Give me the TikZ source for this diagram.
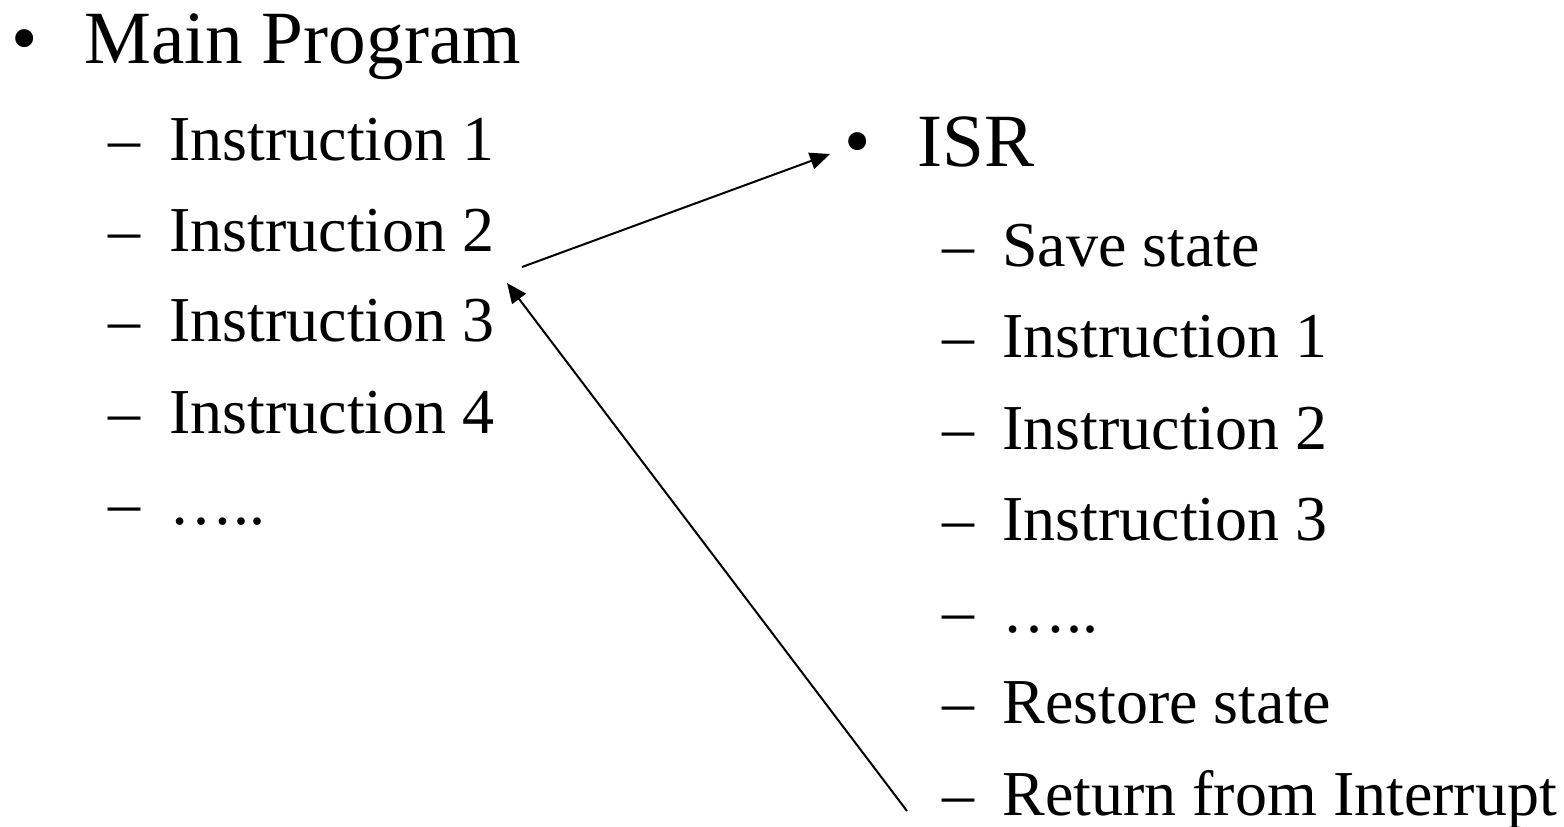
\documentclass[tikz,border=0pt]{standalone}
\usepackage{fontspec}
\setmainfont{Liberation Serif}
\usetikzlibrary{arrows.meta}

\tikzset{
	item/.style={inner sep=0pt, anchor=base west, font=\fontsize{37.6}{44}\selectfont},
	subitem/.style={inner sep=0pt, anchor=base west, font=\fontsize{32}{40}\selectfont},
	jump/.style={line width=1pt, -{Triangle[length=10pt,width=8.5pt]}}
}

\begin{document}
\begin{tikzpicture}[x=0.5pt,y=0.5pt]
	\useasboundingbox (0,0) rectangle (1564,-826);
	
	%MAIN PROGRAM
	\node[item] (mb) at (11,-63) {•};
	\node[item] (main) at (84,-63) {Main Program};
	\node[subitem] (md1) at (108,-160) {–};
	\node[subitem] (m1) at (169,-160) {Instruction 1};
	\node[subitem] (md2) at (108,-251) {–};
	\node[subitem] (m2) at (169,-251) {Instruction 2};
	\node[subitem] (md3) at (108,-341) {–};
	\node[subitem] (m3) at (169,-341) {Instruction 3};
	\node[subitem] (md4) at (108,-433) {–};
	\node[subitem] (m4) at (169,-433) {Instruction 4};
	\node[subitem] (md5) at (108,-524) {–};
	\node[subitem] (m5) at (169,-524) {…..};
	
	%ISR
	\node[item] (ib) at (844,-166) {•};
	\node[item] (isr) at (917,-166) {ISR};
	\node[subitem] (id1) at (942,-266) {–};
	\node[subitem] (i1) at (1002,-266) {Save state};
	\node[subitem] (id2) at (942,-357) {–};
	\node[subitem] (i2) at (1002,-357) {Instruction 1};
	\node[subitem] (id3) at (942,-449) {–};
	\node[subitem] (i3) at (1002,-449) {Instruction 2};
	\node[subitem] (id4) at (942,-540) {–};
	\node[subitem] (i4) at (1002,-540) {Instruction 3};
	\node[subitem] (id5) at (942,-632) {–};
	\node[subitem] (i5) at (1002,-632) {…..};
	\node[subitem] (id6) at (942,-723) {–};
	\node[subitem] (i6) at (1002,-723) {Restore state};
	\node[subitem] (id7) at (942,-815) {–};
	\node[subitem] (i7) at (1002,-815) {Return from Interrupt};
	
	%ARROWS
	\coordinate (call) at (522,-267);
	\coordinate (entry) at (830,-154);
	\coordinate (ret) at (907,-811);
	\coordinate (back) at (507,-283);
	\draw[jump] (call) -- (entry);
	\draw[jump] (ret) -- (back);
\end{tikzpicture}
\end{document}
